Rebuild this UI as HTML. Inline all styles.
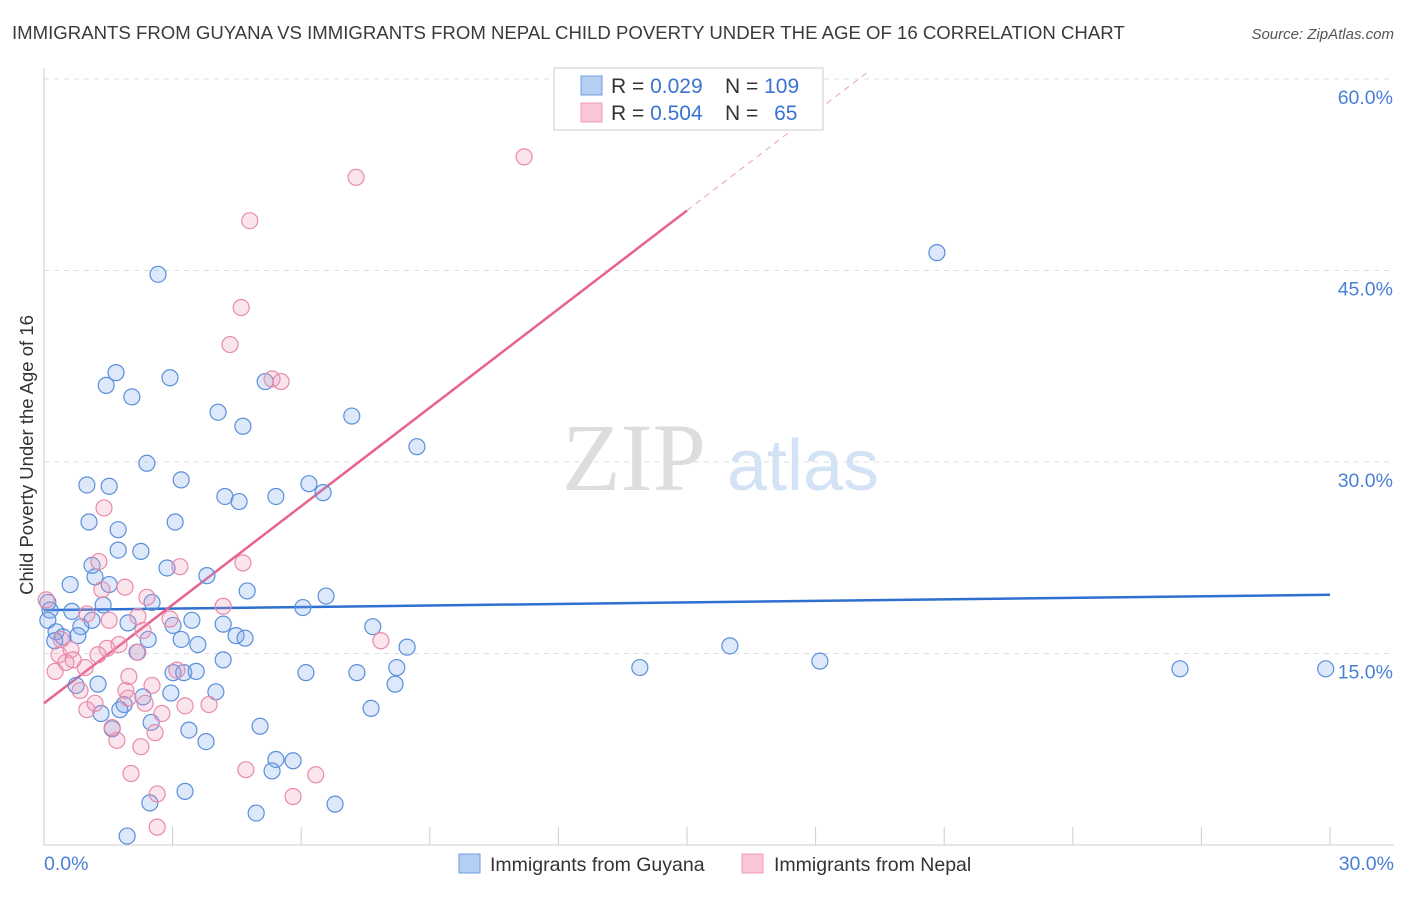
<!DOCTYPE html>
<html><head><meta charset="utf-8"><style>
body{margin:0;background:#fff;font-family:"Liberation Sans",sans-serif}
</style></head><body>
<svg id="chart" width="1406" height="892" xmlns="http://www.w3.org/2000/svg" style="font-family:'Liberation Sans',sans-serif">
<text x="12" y="39" font-size="18.6" fill="#3a3a3a">IMMIGRANTS FROM GUYANA VS IMMIGRANTS FROM NEPAL CHILD POVERTY UNDER THE AGE OF 16 CORRELATION CHART</text>
<text x="1394" y="39" font-size="15" fill="#555" text-anchor="end" font-style="italic">Source: ZipAtlas.com</text>
<g>
<text x="634" y="490" font-size="96" fill="#ddd" font-family="Liberation Serif" text-anchor="middle">ZIP</text>
<text x="803" y="490" font-size="72" fill="#d3e2f5" text-anchor="middle">atlas</text>
</g>
<g id="grid"></g><g id="axes"></g><g id="lines"></g><g id="pts"></g>
<text transform="translate(33,455) rotate(-90)" font-size="18.5" fill="#333" text-anchor="middle">Child Poverty Under the Age of 16</text>
<g>
<rect x="554" y="68" width="269" height="62" fill="#fff" stroke="#ccc"/>
<rect x="581" y="76" width="21" height="19" fill="#b5cff3" stroke="#6f9de0"/>
<rect x="581" y="103" width="21" height="19" fill="#f9c6d6" stroke="#ee9bb6"/>
<text x="611" y="93" font-size="21" fill="#333">R = <tspan fill="#3b73d1">0.029</tspan></text>
<text x="725" y="93" font-size="21" fill="#333">N = <tspan fill="#3b73d1">109</tspan></text>
<text x="611" y="120" font-size="21" fill="#333">R = <tspan fill="#3b73d1">0.504</tspan></text>
<text x="725" y="120" font-size="21" fill="#333">N = <tspan fill="#3b73d1" dx="10">65</tspan></text>
</g>
<g>
<rect x="459" y="854" width="21" height="19" fill="#b5cff3" stroke="#6f9de0"/>
<text x="490" y="871" font-size="19.5" fill="#333">Immigrants from Guyana</text>
<rect x="742" y="854" width="21" height="19" fill="#f9c6d6" stroke="#ee9bb6"/>
<text x="774" y="871" font-size="19.5" fill="#333">Immigrants from Nepal</text>
</g>
</svg>
<script>
const yTicks=[15,30,45,60];
const yTickLabels=["15.0%","30.0%","45.0%","60.0%"];
const xEndLabels=["0.0%","30.0%"];
const guyanaX=[2.66,20.83,1.68,1.45,2.94,2.05,5.16,4.06,4.64,7.18,8.70,2.40,1.0,1.52,3.2,4.22,4.55,5.41,6.18,6.51,1.05,1.73,3.06,1.73,2.26,1.12,1.19,0.61,1.52,2.87,3.8,4.74,6.58,6.04,2.52,1.38,0.65,0.14,0.09,1.12,0.86,0.28,0.44,0.79,1.96,3.01,3.45,2.43,3.2,3.59,4.48,4.69,4.18,7.67,8.47,2.17,4.18,3.01,3.26,3.55,6.11,7.3,8.23,8.19,13.9,16.0,18.1,26.5,29.9,1.26,0.75,2.96,4.01,2.31,1.87,1.77,1.33,7.63,2.5,5.04,3.38,1.59,3.78,5.41,5.81,5.32,3.29,2.47,6.79,4.95,1.94,0.09,0.25];
const guyanaY=[44.7,46.4,37.0,36.0,36.6,35.1,36.3,33.9,32.8,33.6,31.2,29.9,28.2,28.1,28.6,27.3,26.9,27.3,28.3,27.6,25.3,24.7,25.3,23.1,23.0,21.9,21.0,20.4,20.4,21.7,21.1,19.9,19.5,18.6,19.0,18.8,18.3,18.4,17.6,17.6,17.1,16.7,16.3,16.4,17.4,17.2,17.6,16.1,16.1,15.7,16.4,16.2,17.3,17.1,15.5,15.1,14.5,13.5,13.5,13.6,13.5,13.5,13.9,12.6,13.9,15.6,14.4,13.8,13.8,12.6,12.5,11.9,12.0,11.6,11.0,10.6,10.3,10.7,9.6,9.3,9.0,9.1,8.1,6.7,6.6,5.8,4.2,3.3,3.2,2.5,0.7,19.0,16.0];
const nepalX=[11.2,7.28,4.8,4.6,4.34,5.32,5.53,1.4,1.28,3.17,4.64,1.89,1.35,2.4,4.18,0.05,1.0,2.19,1.52,2.94,2.31,7.86,1.75,1.47,0.63,0.35,0.51,1.26,2.19,0.26,0.96,3.1,1.98,0.84,2.52,1.91,1.96,1.19,2.36,3.29,3.85,1.0,2.75,2.59,1.59,1.7,2.26,2.03,4.71,6.34,2.64,5.81,2.64,0.4,0.68];
const nepalY=[53.9,52.3,48.9,42.1,39.2,36.5,36.3,26.4,22.2,21.8,22.1,20.2,20.0,19.4,18.7,19.2,18.1,17.9,17.6,17.7,16.8,16.0,15.7,15.4,15.3,14.9,14.3,14.9,15.1,13.6,13.9,13.7,13.2,12.1,12.5,12.1,11.5,11.1,11.1,10.9,11.0,10.6,10.3,8.8,9.2,8.2,7.7,5.6,5.9,5.5,4.0,3.8,1.4,16.1,14.5];
const guyanaTrend=[18.4,19.6];
const nepalTrend=[11.1,49.7];
const X0=44,X1=1330,Y0=845,YPX=191.5/15;
const sx=v=>X0+v*(X1-X0)/30, sy=v=>Y0-v*YPX;
const NS="http://www.w3.org/2000/svg";
function mk(parent,tag,attrs){const e=document.createElementNS(NS,tag);for(const k in attrs)e.setAttribute(k,attrs[k]);document.getElementById(parent).appendChild(e);return e;}
yTicks.forEach((t,i)=>{
 const g=mk('grid','line',{x1:X0,x2:1394,y1:sy(t),y2:sy(t),stroke:'#ddd','stroke-dasharray':'5,5'});
 
 
 const l=mk('axes','text',{x:1393,y:sy(t)+25,'font-size':19.5,fill:'#4a7fd6','text-anchor':'end'});
 l.textContent=yTickLabels[i];
 
 
});
const ax=mk('axes','line',{x1:X0,x2:X0,y1:68,y2:Y0,stroke:'#ccc'});


const bx=mk('axes','line',{x1:X0,x2:1394,y1:Y0,y2:Y0,stroke:'#ccc'});


for(let i=0;i<=10;i++){const t=mk('axes','line',{x1:sx(i*3),x2:sx(i*3),y1:Y0,y2:Y0-18,stroke:'#ccc'});
 
 }
[[0,'start',44],[1,'end',1394]].forEach(([i,a,x])=>{const l=mk('axes','text',{x:x,y:870,'font-size':19.5,fill:'#4a7fd6','text-anchor':a});l.textContent=xEndLabels[i];
 
 });
function pts(xs,ys,fill,stroke,name){xs.forEach((x,i)=>{const c=mk('pts','circle',{cx:sx(x),cy:sy(ys[i]),r:8,fill:fill,stroke:stroke,'stroke-width':1.2});
 
 });}
pts(guyanaX,guyanaY,'rgba(120,165,235,0.25)','#5b8fd9','guyana-point');
pts(nepalX,nepalY,'rgba(240,150,185,0.25)','#e88aab','nepal-point');
const bl=mk('lines','line',{x1:sx(0),y1:sy(guyanaTrend[0]),x2:sx(30),y2:sy(guyanaTrend[1]),stroke:'#2f6fd0','stroke-width':2.5});


const slope=(nepalTrend[1]-nepalTrend[0])/15;
const pl=mk('lines','line',{x1:sx(0),y1:sy(nepalTrend[0]),x2:sx(15),y2:sy(nepalTrend[1]),stroke:'#e8628e','stroke-width':2.5});


const xe=(60.5-nepalTrend[0])/slope;
const pd=mk('lines','line',{x1:sx(15),y1:sy(nepalTrend[1]),x2:sx(xe),y2:sy(60.5),stroke:'#e8a0b8','stroke-width':1,'stroke-dasharray':'6,5'});


</script>
</body></html>
